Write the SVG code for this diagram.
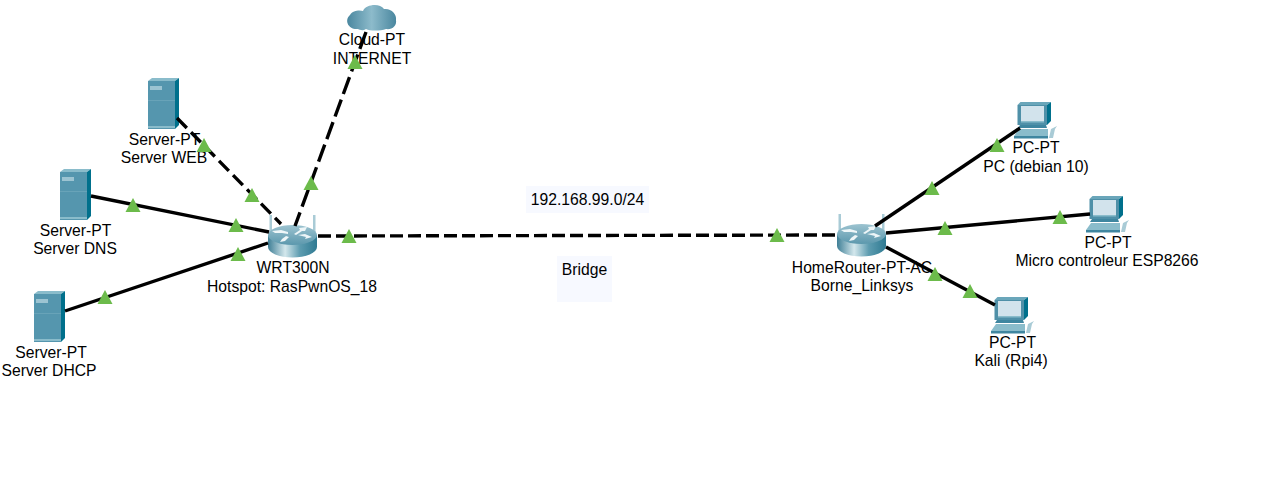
<svg xmlns="http://www.w3.org/2000/svg" width="1275" height="501" viewBox="0 0 1275 501">
<style>
text{font-family:"Liberation Sans",Arial,sans-serif;font-size:15.700px;fill:#000;text-anchor:middle}
.s{fill:none;stroke:#000;stroke-width:3.400}
.d1{stroke-dasharray:18 6}
.d2{stroke-dasharray:14 6}
.d3{stroke-dasharray:13 5}
.tag{fill:#f7f9ff}
</style>
<defs>
<linearGradient id="cg" x1="0" x2="1" y1="0" y2="0"><stop offset="0" stop-color="#4a879f"/><stop offset=".5" stop-color="#8dbbcb"/><stop offset="1" stop-color="#4a879f"/></linearGradient>
<linearGradient id="rs" x1="0" x2="1" y1="0" y2="0"><stop offset="0" stop-color="#3f7f96"/><stop offset=".35" stop-color="#d3e7ec"/><stop offset=".65" stop-color="#5d9cb0"/><stop offset="1" stop-color="#2f7a92"/></linearGradient>
<linearGradient id="rt" x1="0" x2="0" y1="0" y2="1"><stop offset="0" stop-color="#9cc3d0"/><stop offset="1" stop-color="#5c98ad"/></linearGradient>
<polygon id="tri" points="-7.500,0 0,-14 7.500,0" fill="#6cbb4b"/>
<g id="server">
<rect x="0" y="3" width="27" height="48" fill="#5596ae"/>
<polygon points="0,3 4,0 31,0 27,3" fill="#8abccb"/>
<polygon points="27,3 31,0 31,47 27,51" fill="#00708c"/>
<rect x="0" y="48" width="27" height="2" fill="#8abccb"/>
<rect x="2" y="8" width="12" height="4" fill="#9cc4d2"/>
<rect x="0" y="22" width="27" height="1" fill="#68a3b8"/>
</g>
<g id="pc">
<polygon points="3.500,3 6.500,0 37,0 33,3" fill="#6aa6ba"/>
<polygon points="33,3 37,0 37,19 33,23" fill="#00708c"/>
<rect x="3.500" y="3" width="29.500" height="20" fill="#4f90a8"/>
<rect x="7" y="4" width="23" height="15" fill="#d2e3ec"/>
<rect x="7" y="19" width="23" height="1.500" fill="#8abccb"/>
<polygon points="6,23 32,23 33,26 4,26" fill="#3f86a0"/>
<polygon points="5,27 34,27 34,34 0,34" fill="#8abccb"/>
<rect x="0" y="34" width="34" height="2.500" fill="#3f86a0"/>
<polygon points="37,27 43,24 41,27 39,36 35,36" fill="#a9cbd6"/>
</g>
<g id="router">
<rect x="1.500" y="0" width="2.500" height="18" fill="#a9cbd6"/>
<rect x="45" y="0" width="2.500" height="18" fill="#a9cbd6"/>
<path d="M0,20V32A24.500,10.500 0 0 0 49,32V20Z" fill="url(#rs)"/>
<ellipse cx="24.500" cy="20" rx="24.500" ry="10" fill="url(#rt)"/>
<g fill="#eef6f8">
<polygon points="4,16 13,15 20,17 20,19 14,18 7,18"/>
<polygon points="26,19 32,15 31,13 39,12 37,16 34,16 28,20"/>
<polygon points="30,20 37,19 44,22 37,24 38,22"/>
<polygon points="18,21 21,22 17,26 12,27 14,24"/>
</g>
</g>
</defs>

<rect class="tag" x="526" y="186" width="123" height="27"/>
<rect class="tag" x="557" y="256" width="55" height="46"/>
<text x="587.500" y="205">192.168.99.0/24</text>
<text x="584.500" y="275">Bridge</text>

<g id="cloud"><path d="M358,29C348,30 344,20 350,15C353,10 360,10 363,11C366,4 380,3 384,9C391,8 397,14 396,20C397,26 392,30 386,29C380,31 370,31 366,29C363,31 360,30 358,29Z" fill="url(#cg)"/><text x="372" y="45">Cloud-PT</text><text x="372" y="64">INTERNET</text></g>
<g id="server-web"><use href="#server" x="148" y="78"/><text x="164.500" y="145">Server-PT</text><text x="164" y="163">Server WEB</text></g>
<g id="server-dns"><use href="#server" x="60" y="169"/><text x="75.500" y="236">Server-PT</text><text x="75" y="254">Server DNS</text></g>
<g id="server-dhcp"><use href="#server" x="34" y="291"/><text x="51" y="358">Server-PT</text><text x="49" y="376">Server DHCP</text></g>
<g id="wrt300n"><use href="#router" x="268" y="215"/><text x="293" y="273">WRT300N</text><text x="292" y="292">Hotspot: RasPwnOS_18</text></g>
<g id="homerouter"><use href="#router" x="837" y="214"/><text x="862" y="273">HomeRouter-PT-AC</text><text x="862" y="291">Borne_Linksys</text></g>
<g id="pc-debian"><use href="#pc" x="1014" y="102"/><text x="1036" y="153">PC-PT</text><text x="1036" y="172">PC (debian 10)</text></g>
<g id="pc-esp"><use href="#pc" x="1086" y="196"/><text x="1108" y="248">PC-PT</text><text x="1107" y="266">Micro controleur ESP8266</text></g>
<g id="pc-kali"><use href="#pc" x="991" y="297"/><text x="1012.500" y="348">PC-PT</text><text x="1011" y="366">Kali (Rpi4)</text></g>

<g id="connectors">
<line class="s d1" x1="366" y1="32" x2="295" y2="226"/>
<line class="s d2" x1="177" y1="118" x2="281" y2="224"/>
<line class="s" x1="91" y1="196" x2="269" y2="232"/>
<line class="s" x1="65" y1="311" x2="268" y2="243"/>
<line class="s d3" x1="318" y1="236" x2="837" y2="235"/>
<line class="s" x1="875" y1="226" x2="1020" y2="128"/>
<line class="s" x1="886" y1="233" x2="1090" y2="214"/>
<line class="s" x1="886" y1="247" x2="995" y2="305"/>
<use href="#tri" x="355" y="69"/>
<use href="#tri" x="311" y="190"/>
<use href="#tri" x="204" y="152"/>
<use href="#tri" x="252" y="202"/>
<use href="#tri" x="133" y="212"/>
<use href="#tri" x="236" y="232"/>
<use href="#tri" x="105" y="304"/>
<use href="#tri" x="238" y="261"/>
<use href="#tri" x="349" y="243"/>
<use href="#tri" x="777" y="242"/>
<use href="#tri" x="932" y="195"/>
<use href="#tri" x="997" y="152"/>
<use href="#tri" x="945" y="235"/>
<use href="#tri" x="1060" y="224"/>
<use href="#tri" x="935" y="281"/>
<use href="#tri" x="970" y="298"/>
</g>
</svg>
